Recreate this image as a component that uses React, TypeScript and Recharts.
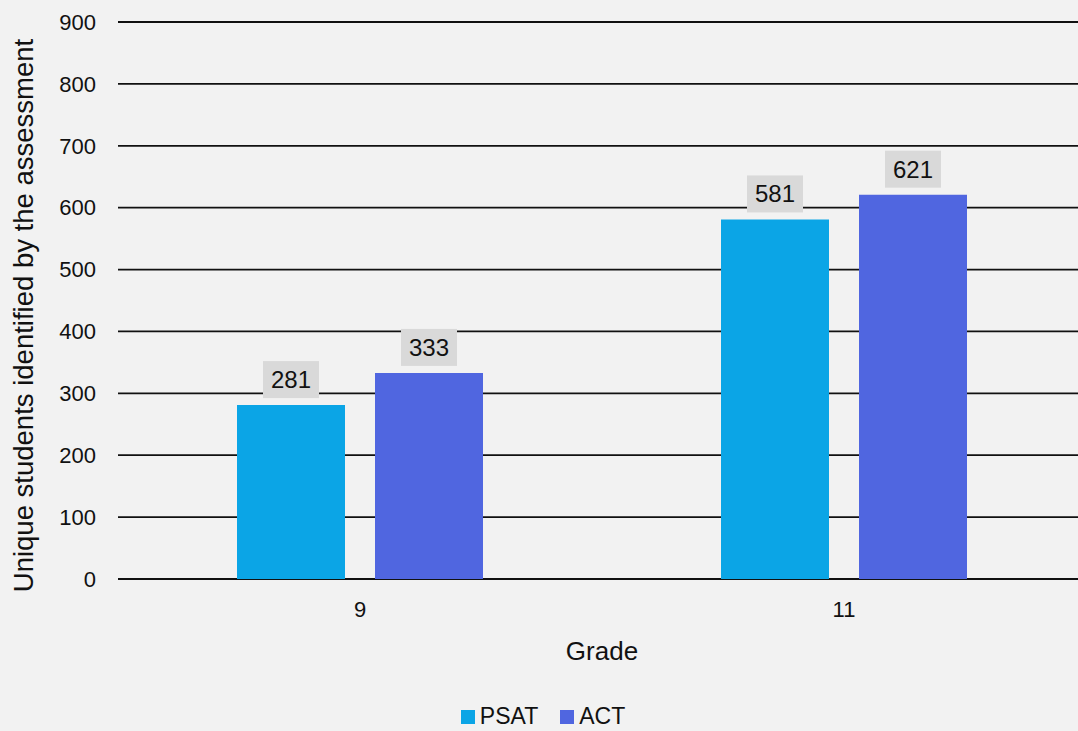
import React from 'react';
import { BarChart, Bar, XAxis, YAxis, CartesianGrid, Legend, LabelList } from 'recharts';

const grades = ['9', '11'];
const psat = [281, 581];
const act = [333, 621];
const yTicks = [0, 100, 200, 300, 400, 500, 600, 700, 800, 900];

const data = grades.map((g, i) => ({ grade: g, PSAT: psat[i], ACT: act[i] }));

const font = '"Liberation Sans", Arial, Helvetica, sans-serif';

const ValueBox = (props: any) => {
    const { x, y, width, value } = props;
    const cx = x + width / 2;
    const w = 56;
    const h = 37;
    return (
        <g>
            <rect x={cx - w / 2} y={y - 7 - h} width={w} height={h} fill="#d9d9d9" />
            <text x={cx} y={y - 7 - h / 2} textAnchor="middle" dominantBaseline="central" fontSize={24} fill="#111" fontFamily={font}>
                {value}
            </text>
        </g>
    );
};

const LegendContent = () => (
    <div style={{ position: 'relative', top: 12, display: 'flex', justifyContent: 'center', gap: 22, fontFamily: font, fontSize: 23, color: '#111' }}>
        {[{ n: 'PSAT', c: '#0ba5e6' }, { n: 'ACT', c: '#5066e0' }].map((it) => (
            <span key={it.n} style={{ display: 'flex', alignItems: 'center' }}>
                <span style={{ width: 14, height: 14, background: it.c, display: 'inline-block', marginRight: 5 }} />
                {it.n}
            </span>
        ))}
    </div>
);

const App = () => {
    return (
        <div style={{ position: 'absolute', left: 0, top: 0, width: 1078, height: 731, overflow: 'hidden', background: '#f2f2f2' }}>
            <BarChart
                width={1086}
                height={731}
                data={data}
                margin={{ top: 22, right: 0, bottom: 0, left: 0 }}
                barSize={108}
                barGap={30}
                style={{ fontFamily: font }}
            >
                <CartesianGrid horizontal vertical={false} stroke="#111" strokeWidth={1.8} strokeOpacity={1} />
                <XAxis
                    dataKey="grade"
                    axisLine={false}
                    tickLine={false}
                    tickSize={0}
                    tickMargin={22}
                    height={112}
                    tick={{ fontSize: 22, fill: '#111' }}
                    label={{ value: 'Grade', position: 'insideTop', dy: 58, fontSize: 26, fill: '#111' }}
                />
                <YAxis
                    domain={[0, 900]}
                    ticks={yTicks}
                    interval={0}
                    axisLine={false}
                    tickLine={false}
                    tickSize={0}
                    tickMargin={22}
                    width={118}
                    tick={{ fontSize: 22, fill: '#111' }}
                    label={{ value: 'Unique students identified by the assessment', angle: -90, position: 'insideLeft', dx: 18, dy: 15, fontSize: 27.5, fill: '#111', style: { textAnchor: 'middle' } }}
                />
                <Legend verticalAlign="bottom" height={40} content={<LegendContent />} />
                <Bar dataKey="PSAT" fill="#0ba5e6" isAnimationActive={false}>
                    <LabelList dataKey="PSAT" content={<ValueBox />} />
                </Bar>
                <Bar dataKey="ACT" fill="#5066e0" isAnimationActive={false}>
                    <LabelList dataKey="ACT" content={<ValueBox />} />
                </Bar>
            </BarChart>
        </div>
    );
};

export default App;
